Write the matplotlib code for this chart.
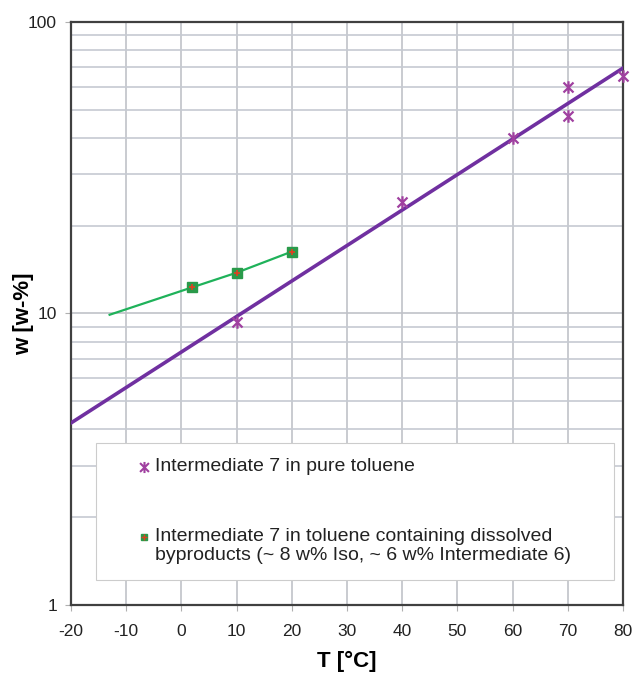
import numpy as np
import matplotlib
matplotlib.use('Agg')
import matplotlib.pyplot as plt
from matplotlib.path import Path
from matplotlib.patches import Rectangle
from matplotlib.ticker import LogLocator, NullFormatter, FixedLocator

plt.rcParams['font.family'] = ['Liberation Sans', 'DejaVu Sans']
plt.rcParams['axes.unicode_minus'] = False

#pure toluene measurements
pure_T = [10, 40, 60, 70, 70, 80]
pure_w = [9.35, 24.1, 40.0, 59.8, 47.6, 65.3]

#toluene with byproducts
byp_T = [2, 10, 20]
byp_w = [12.3, 13.8, 16.3]
#green curve incl. extrapolated start
byp_line_T = [-13, 2, 10, 20]
byp_line_w = [9.9, 12.3, 13.8, 16.3]

x_ticks = [-20, -10, 0, 10, 20, 30, 40, 50, 60, 70, 80]
labels = ['Intermediate 7 in pure toluene',
          'Intermediate 7 in toluene containing dissolved\nbyproducts (~ 8 w% Iso, ~ 6 w% Intermediate 6)']

#star marker (x with vertical bar) like excel
star = Path([(-1, -1), (1, 1), (-1, 1), (1, -1), (0, -1.25), (0, 1.25)],
            [Path.MOVETO, Path.LINETO, Path.MOVETO, Path.LINETO, Path.MOVETO, Path.LINETO])

fig = plt.figure(figsize=(6.35, 6.74), dpi=100)
ax = fig.add_axes([0.1118, 0.1024, 0.8692, 0.865])

ax.set_yscale('log')
ax.set_xlim(-20, 80)
ax.set_ylim(1, 100)

#grid
ax.set_xticks(x_ticks)
ax.yaxis.set_major_locator(FixedLocator([1, 10, 100]))
ax.yaxis.set_minor_locator(LogLocator(base=10, subs=np.arange(2, 10)))
ax.yaxis.set_minor_formatter(NullFormatter())
ax.set_yticklabels(['1', '10', '100'])
ax.grid(True, which='major', color='#c0c2c8', lw=1.2)
ax.grid(True, which='minor', axis='y', color='#c6cad2', lw=1.2)
ax.set_axisbelow(True)

#trend line for pure toluene (exponential fit like excel)
coef = np.polyfit(pure_T, np.log10(pure_w), 1)
fit_T = np.array([-20, 80])
ax.plot(fit_T, 10 ** np.polyval(coef, fit_T), color='#7030a0', lw=2.6, zorder=3)

ax.plot(byp_line_T, byp_line_w, color='#1fb25a', lw=1.6, zorder=3)

ax.plot(pure_T, pure_w, ls='none', marker=star, ms=9, mew=1.6,
        mec='#a040a0', mfc='none', zorder=4, clip_on=False)
ax.plot(byp_T, byp_w, ls='none', marker='s', ms=6.5, mfc='#2a9a4a',
        mec='#2a9a4a', zorder=4)
ax.plot(byp_T, byp_w, ls='none', marker='+', ms=5, mew=1.2,
        mec='#e04020', zorder=5)

#axes styling
for s in ax.spines.values():
    s.set_color('#404040')
    s.set_linewidth(1.6)
ax.tick_params(axis='both', which='major', labelsize=12.5, length=4,
               color='#b0b0b0', labelcolor='#222222')
ax.tick_params(axis='x', pad=10)
ax.tick_params(axis='y', pad=6)
ax.tick_params(axis='y', which='minor', length=0)

ax.set_ylabel('w [w-%]', fontsize=16, fontweight='bold')
ax.yaxis.set_label_coords(-0.067, 0.5)
ax.set_xlabel('T [°C]', fontsize=16, fontweight='bold')
ax.xaxis.set_label_coords(0.5, -0.078)

#legend box drawn by hand to match spacing
ax.add_patch(Rectangle((0.045, 0.043), 0.939, 0.235, transform=ax.transAxes,
                       facecolor='white', edgecolor='#cccccc', lw=0.8, zorder=6))
ax.plot([0.132], [0.237], transform=ax.transAxes, ls='none', marker=star, ms=8,
        mew=1.5, mec='#a040a0', mfc='none', zorder=7, clip_on=False)
ax.plot([0.132], [0.117], transform=ax.transAxes, ls='none', marker='s', ms=5,
        mfc='#2a9a4a', mec='#2a9a4a', zorder=7, clip_on=False)
ax.plot([0.132], [0.117], transform=ax.transAxes, ls='none', marker='+', ms=4,
        mew=1, mec='#e04020', zorder=8, clip_on=False)
ax.text(0.152, 0.237, labels[0], transform=ax.transAxes, fontsize=14,
        va='center', ha='left', color='#222222', zorder=8)
ax.text(0.152, 0.101, labels[1], transform=ax.transAxes, fontsize=14,
        va='center', ha='left', color='#222222', linespacing=1.15, zorder=8)

fig.savefig('out.png', dpi=100)
